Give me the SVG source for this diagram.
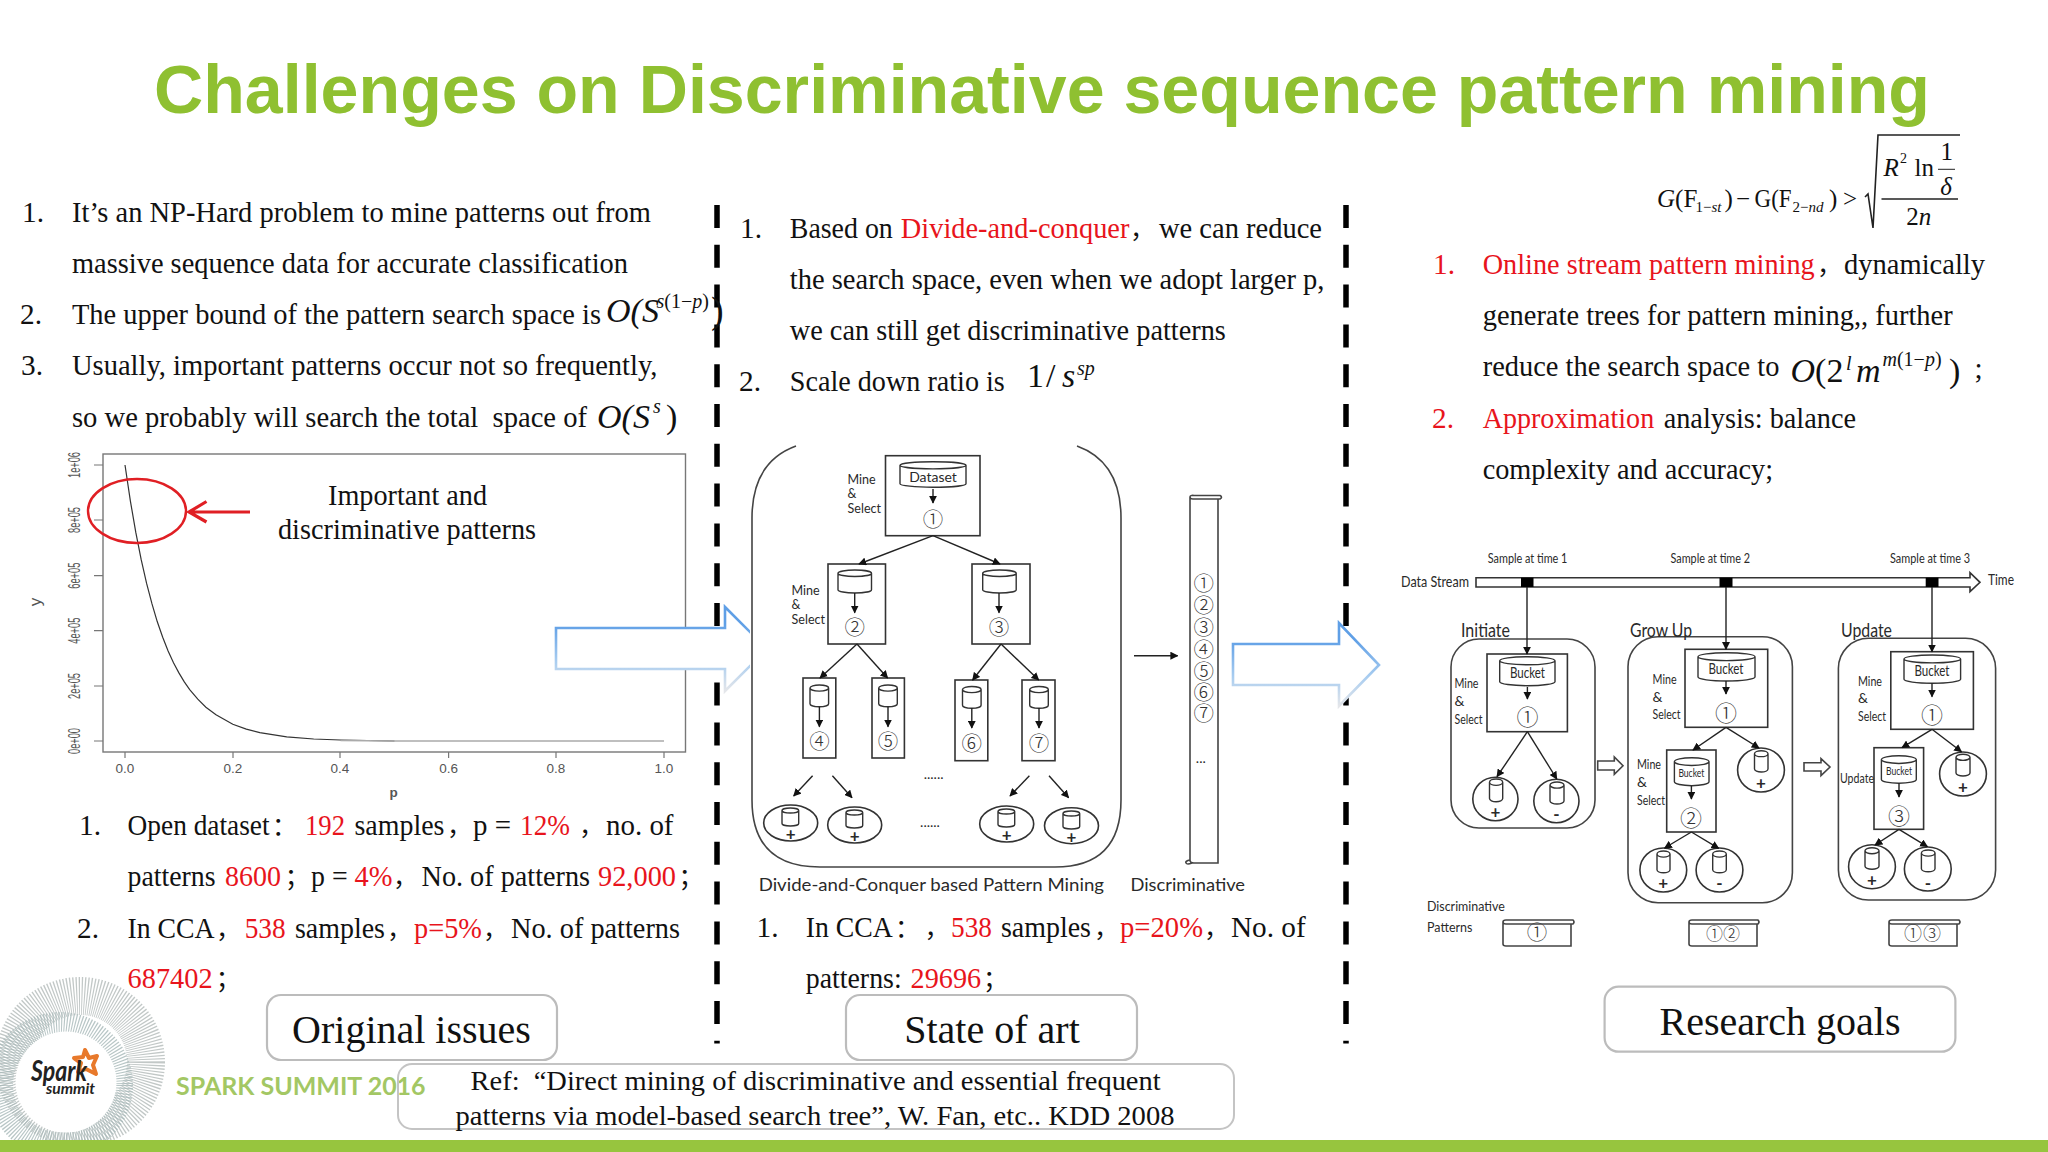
<svg xmlns="http://www.w3.org/2000/svg" width="2048" height="1152" viewBox="0 0 2048 1152">
<style>
text{font-family:"Liberation Serif","Noto Sans CJK SC",serif;fill:#111;font-size:29.3px}
text.r{fill:#e8141c}
.i{font-style:italic}
.n{font-style:normal}
.m{font-size:34px}
.su{font-size:20px}
.p{font-size:25px}
.f{font-size:25px}
.h{font-size:40px;text-anchor:middle}
.c{font-family:"Lato","Noto Sans CJK SC",sans-serif;fill:#2a2a2a;font-size:14px}
.cc{font-family:"Noto Sans CJK SC",sans-serif;fill:#333;font-size:20.500px;text-anchor:middle;font-weight:300}
.tk{font-family:"Liberation Sans",sans-serif;fill:#555;font-size:13.500px;text-anchor:middle}
.ty{font-size:17px}
.ln{stroke:#222;stroke-width:1.4;fill:none}
.bx{stroke:#333;stroke-width:1.6;fill:#fff}
.pn{stroke:#444;stroke-width:1.6;fill:none}
.lb{stroke:#bcbcbc;stroke-width:2.2;fill:#fff}
.big{stroke:url(#bl);stroke-width:2.6;fill:#fff}
.dash{stroke:#000;stroke-width:5.5;stroke-dasharray:23 16.800;fill:none}
.cy{stroke:#333;stroke-width:1.4;fill:#fff;vector-effect:non-scaling-stroke}
.ray{fill:none;stroke-dasharray:1.1 1.5}
.pl{text-anchor:middle;font-size:17px;font-weight:bold}
</style>
<defs>
<linearGradient id="bl" x1="0" y1="0" x2="0" y2="1"><stop offset="0.2" stop-color="#5f9fe6"/><stop offset="0.65" stop-color="#a9cdf0"/><stop offset="1" stop-color="#e4e6ea"/></linearGradient>
<marker id="a" viewBox="0 0 10 10" refX="9" refY="5" markerWidth="8" markerHeight="8" markerUnits="userSpaceOnUse" orient="auto"><path d="M0,0 L10,5 L0,10 Z" fill="#111"/></marker>
<symbol id="cyl" viewBox="0 0 100 100" preserveAspectRatio="none" overflow="visible"><path class="cy" d="M0,14 A50,14 0 0 1 100,14 V86 A50,14 0 0 1 0,86 Z M0,14 A50,14 0 0 0 100,14"/></symbol>
<clipPath id="clipL"><rect x="500" y="590" width="250" height="120"/></clipPath>
</defs>
<rect width="2048" height="1152" fill="#fff"/>

<text id="title" x="154" y="113" textLength="1776" lengthAdjust="spacingAndGlyphs" style="font-family:'Liberation Sans',sans-serif;font-weight:bold;font-size:68px;fill:#8fc031">Challenges on Discriminative sequence pattern mining</text>

<g id="plot">
<rect x="103" y="454" width="582.500" height="298" fill="none" stroke="#777" stroke-width="1.4"/>
<path d="M125,465 L130.400,501.100 135.800,532.400 141.200,559.700 146.600,583.400 152,603.900 157.300,621.800 162.700,637.300 168.100,651 173.500,662.700 178.900,672.900 184.300,681.900 189.700,689.600 197.800,699.200 205.900,707.200 216,714.700 232.800,724.200 246.300,729.100 259.800,732.700 286.700,736.900 313.700,739 340.600,740 394.500,741" fill="none" stroke="#333" stroke-width="1.200"/>
<path d="M340.600,740.500 L394.500,741 H664" fill="none" stroke="#aaa" stroke-width="1.600"/>
<path d="M103,465 h-9 M103,520 h-9 M103,575.700 h-9 M103,630.700 h-9 M103,686 h-9 M103,741 h-9 M125,752 v6 M233,752 v6 M340,752 v6 M448.600,752 v6 M556,752 v6 M664,752 v6" stroke="#777" stroke-width="1.200"/>
<text class="tk ty" transform="translate(80,465) rotate(-90)" textLength="26" lengthAdjust="spacingAndGlyphs">1e+06</text>
<text class="tk ty" transform="translate(80,520) rotate(-90)" textLength="26" lengthAdjust="spacingAndGlyphs">8e+05</text>
<text class="tk ty" transform="translate(80,575.700) rotate(-90)" textLength="26" lengthAdjust="spacingAndGlyphs">6e+05</text>
<text class="tk ty" transform="translate(80,630.700) rotate(-90)" textLength="26" lengthAdjust="spacingAndGlyphs">4e+05</text>
<text class="tk ty" transform="translate(80,686) rotate(-90)" textLength="26" lengthAdjust="spacingAndGlyphs">2e+05</text>
<text class="tk ty" transform="translate(80,741) rotate(-90)" textLength="26" lengthAdjust="spacingAndGlyphs">0e+00</text>
<text class="tk ty" transform="translate(41,602) rotate(-90)">y</text>
<text class="tk" x="125" y="773">0.0</text><text class="tk" x="233" y="773">0.2</text><text class="tk" x="340" y="773">0.4</text><text class="tk" x="448.600" y="773">0.6</text><text class="tk" x="556" y="773">0.8</text><text class="tk" x="664" y="773">1.0</text>
<text class="tk" x="393.500" y="797" style="font-weight:bold">p</text>
<ellipse cx="137" cy="511" rx="49" ry="32" fill="none" stroke="#e01f24" stroke-width="2.400"/>
<path d="M250,512 H189 M206.500,501.500 L189,512 L206.500,522" fill="none" stroke="#e01f24" stroke-width="3.200"/>
<text x="328" y="505" textLength="159" lengthAdjust="spacingAndGlyphs">Important and</text>
<text x="278" y="539" textLength="258" lengthAdjust="spacingAndGlyphs">discriminative patterns</text>
</g>

<g id="dividers">
<path class="dash" d="M717,205 V1043.500"/>
<path class="dash" d="M1346,205 V1043.500"/>
</g>

<g id="col-left">
<text x="22" y="222">1.</text><text x="72" y="222" textLength="579" lengthAdjust="spacingAndGlyphs">It’s an NP-Hard problem to mine patterns out from</text>
<text x="72" y="273" textLength="556" lengthAdjust="spacingAndGlyphs">massive sequence data for accurate classification</text>
<text x="20" y="324">2.</text><text x="72" y="324" textLength="529" lengthAdjust="spacingAndGlyphs">The upper bound of the pattern search space is</text>
<text class="m i" x="606" y="322">O(S</text><text class="su i" x="656.500" y="308">s<tspan class="n">(1−</tspan>p<tspan class="n">)</tspan></text><text x="711" y="323" style="font-size:38px">)</text>
<text x="21" y="375">3.</text><text x="72" y="375" textLength="585.500" lengthAdjust="spacingAndGlyphs">Usually, important patterns occur not so frequently,</text>
<text x="72" y="426.500" textLength="515" lengthAdjust="spacingAndGlyphs">so we probably will search the total&#160; space of</text>
<text class="m i" x="597" y="428">O(S</text><text class="su i" x="653" y="413">s</text><text class="m" x="666" y="428">)</text>

<text x="79" y="835">1.</text>
<text x="127.600" y="835" textLength="142" lengthAdjust="spacingAndGlyphs">Open dataset</text><text class="p" x="272" y="835">：</text>
<text class="r" x="305" y="835" textLength="40" lengthAdjust="spacingAndGlyphs">192</text>
<text x="354.500" y="835" textLength="90" lengthAdjust="spacingAndGlyphs">samples</text><text class="p" x="447" y="835">，</text>
<text x="473" y="835" textLength="38" lengthAdjust="spacingAndGlyphs">p =</text>
<text class="r" x="520" y="835" textLength="50" lengthAdjust="spacingAndGlyphs">12%</text><text class="p" x="579" y="835">，</text>
<text x="606" y="835" textLength="67.500" lengthAdjust="spacingAndGlyphs">no. of</text>

<text x="127.600" y="886" textLength="88" lengthAdjust="spacingAndGlyphs">patterns</text>
<text class="r" x="225" y="886" textLength="56" lengthAdjust="spacingAndGlyphs">8600</text><text class="p" x="284.700" y="886">；</text>
<text x="311" y="886" textLength="36.600" lengthAdjust="spacingAndGlyphs">p =</text>
<text class="r" x="354.500" y="886" textLength="38" lengthAdjust="spacingAndGlyphs">4%</text><text class="p" x="393" y="886">，</text>
<text x="421.500" y="886" textLength="168.500" lengthAdjust="spacingAndGlyphs">No. of patterns</text>
<text class="r" x="598" y="886" textLength="78" lengthAdjust="spacingAndGlyphs">92,000</text><text class="p" x="678.600" y="886">；</text>

<text x="77" y="938">2.</text>
<text x="127.600" y="938" textLength="87" lengthAdjust="spacingAndGlyphs">In CCA</text><text class="p" x="216" y="938">，</text>
<text class="r" x="244.700" y="938" textLength="41" lengthAdjust="spacingAndGlyphs">538</text>
<text x="295" y="938" textLength="90" lengthAdjust="spacingAndGlyphs">samples</text><text class="p" x="387" y="938">，</text>
<text class="r" x="414" y="938" textLength="68" lengthAdjust="spacingAndGlyphs">p=5%</text><text class="p" x="483" y="938">，</text>
<text x="511" y="938" textLength="169" lengthAdjust="spacingAndGlyphs">No. of patterns</text>
<text class="r" x="127.600" y="988" textLength="85" lengthAdjust="spacingAndGlyphs">687402</text><text class="p" x="215.800" y="988">；</text>
</g>

<g id="col-mid">
<text x="740" y="238">1.</text><text x="789.800" y="238" textLength="103" lengthAdjust="spacingAndGlyphs">Based on</text>
<text class="r" x="900.800" y="238" textLength="228.600" lengthAdjust="spacingAndGlyphs">Divide-and-conquer</text><text class="p" x="1130" y="238">，</text>
<text x="1159" y="238" textLength="163" lengthAdjust="spacingAndGlyphs">we can reduce</text>
<text x="789.800" y="289" textLength="534.700" lengthAdjust="spacingAndGlyphs">the search space, even when we adopt larger p,</text>
<text x="789.800" y="340" textLength="436" lengthAdjust="spacingAndGlyphs">we can still get discriminative patterns</text>
<text x="739" y="391">2.</text><text x="789.800" y="391" textLength="215" lengthAdjust="spacingAndGlyphs">Scale down ratio is</text>
<text class="m" x="1027" y="387">1<tspan x="1046">/</tspan><tspan class="i" x="1062">s</tspan></text><text class="su i" x="1077" y="375">sp</text>

<text x="756.600" y="936.500">1.</text>
<text x="805.700" y="936.500" textLength="87" lengthAdjust="spacingAndGlyphs">In CCA</text><text class="p" x="895" y="936.500">：</text><text class="p" x="924.500" y="936.500">，</text>
<text class="r" x="951" y="936.500" textLength="41" lengthAdjust="spacingAndGlyphs">538</text>
<text x="1001" y="936.500" textLength="90" lengthAdjust="spacingAndGlyphs">samples</text><text class="p" x="1094" y="936.500">，</text>
<text class="r" x="1120" y="936.500" textLength="83" lengthAdjust="spacingAndGlyphs">p=20%</text><text class="p" x="1204" y="936.500">，</text>
<text x="1231" y="936.500" textLength="74.700" lengthAdjust="spacingAndGlyphs">No. of</text>
<text x="805.700" y="987.500" textLength="96" lengthAdjust="spacingAndGlyphs">patterns:</text>
<text class="r" x="910.600" y="987.500" textLength="70.500" lengthAdjust="spacingAndGlyphs">29696</text><text class="p" x="983" y="987.500">；</text>
</g>

<g id="col-right">
<text class="r" x="1433" y="274">1.</text><text class="r" x="1482.700" y="274" textLength="332" lengthAdjust="spacingAndGlyphs">Online stream pattern mining</text><text class="p" x="1817" y="274">，</text><text x="1844" y="274" textLength="141" lengthAdjust="spacingAndGlyphs">dynamically</text>
<text x="1482.700" y="325" textLength="470" lengthAdjust="spacingAndGlyphs">generate trees for pattern mining,, further</text>
<text x="1482.700" y="376" textLength="296.700" lengthAdjust="spacingAndGlyphs">reduce the search space to</text>
<text class="m" x="1790.500" y="382"><tspan class="i">O</tspan>(2</text><text class="su i" x="1846" y="370">l</text><text class="m i" x="1856" y="382">m</text><text class="su i" x="1882.500" y="366">m<tspan class="n">(1−</tspan>p<tspan class="n">)</tspan></text><text class="m" x="1949" y="382">)</text><text x="1974.500" y="378">;</text>
<text class="r" x="1432" y="428">2.</text><text class="r" x="1482.700" y="428" textLength="171.500" lengthAdjust="spacingAndGlyphs">Approximation</text><text x="1663.700" y="428" textLength="192.300" lengthAdjust="spacingAndGlyphs">analysis: balance</text>
<text x="1482.700" y="479" textLength="290.300" lengthAdjust="spacingAndGlyphs">complexity and accuracy;</text>
</g>

<g id="formula">
<text class="f i" x="1657" y="207">G<tspan class="n">(F</tspan></text>
<text class="i" x="1695.500" y="212" style="font-size:15px"><tspan class="n">1−</tspan>st</text>
<text class="f" x="1724.400" y="207">)</text><text class="f" x="1736" y="207">−</text>
<text class="f" x="1754.600" y="207" textLength="37" lengthAdjust="spacingAndGlyphs">G(F</text>
<text class="i" x="1792.600" y="212" style="font-size:15px"><tspan class="n">2−</tspan>nd</text>
<text class="f" x="1829" y="207">)</text><text class="f" x="1843" y="207">&gt;</text>
<path d="M1865,197 L1868,194 L1873,228 L1878,135 H1960" fill="none" stroke="#222" stroke-width="1.600"/>
<path d="M1881.500,199 H1958" stroke="#222" stroke-width="1.300"/>
<path d="M1938,169.300 H1955" stroke="#222" stroke-width="1"/>
<text class="f i" x="1883.500" y="176">R</text><text x="1900" y="163" style="font-size:14px">2</text>
<text class="f" x="1914.500" y="176">ln</text>
<text class="f" x="1946.800" y="160" style="text-anchor:middle">1</text>
<text class="f i" x="1946" y="195" style="text-anchor:middle">δ</text>
<text class="f" x="1918.700" y="225" style="text-anchor:middle">2<tspan class="i">n</tspan></text>
</g>

<path id="arrow-left" class="big" clip-path="url(#clipL)" d="M556,628 H725 V607 L767,649 L725,691 V669 H556 Z"/>

<g id="dc-frame">
<path class="pn" d="M796,446 Q752,462 752,518 V800 Q752,867 820,867 H1055 Q1121,867 1121,800 V518 Q1121,462 1077,446"/>
<text class="c" x="758.700" y="890.700" textLength="345.300" lengthAdjust="spacingAndGlyphs" style="font-size:17.500px">Divide-and-Conquer based Pattern Mining</text>
<text class="c" x="1130.500" y="890.700" textLength="114.500" lengthAdjust="spacingAndGlyphs" style="font-size:17.500px">Discriminative</text>
</g>

<g id="dc-n1"><rect class="bx" x="885.500" y="455.700" width="94.500" height="80"/><use href="#cyl" x="900" y="461.700" width="66" height="25.500"/><text class="c" x="933" y="481.500" style="text-anchor:middle;font-size:14px">Dataset</text><text class="cc" x="933" y="526.500">①</text>
<text class="c" x="847.600" y="484" style="font-size:12.500px">Mine</text><text class="c" x="847.600" y="498" style="font-size:12.500px">&amp;</text><text class="c" x="847.600" y="513" style="font-size:12.500px">Select</text></g>
<g id="dc-n2"><rect class="bx" x="828" y="564" width="57.500" height="80"/><use href="#cyl" x="838" y="570" width="33.500" height="23"/><text class="cc" x="854.700" y="635">②</text>
<text class="c" x="791.600" y="595" style="font-size:12.500px">Mine</text><text class="c" x="791.600" y="609" style="font-size:12.500px">&amp;</text><text class="c" x="791.600" y="624" style="font-size:12.500px">Select</text></g>
<g id="dc-n3"><rect class="bx" x="972" y="564" width="58" height="80"/><use href="#cyl" x="982.700" y="570" width="33.500" height="23"/><text class="cc" x="999" y="635">③</text></g>
<g id="dc-n4"><rect class="bx" x="803" y="678" width="32.800" height="80"/><use href="#cyl" x="810" y="685" width="18.600" height="21.700"/><text class="cc" x="819.400" y="749">④</text></g>
<g id="dc-n5"><rect class="bx" x="872" y="678" width="32.400" height="80"/><use href="#cyl" x="878.700" y="685" width="18.600" height="21.700"/><text class="cc" x="888" y="749">⑤</text></g>
<g id="dc-n6"><rect class="bx" x="955" y="680" width="32.800" height="80.700"/><use href="#cyl" x="962.500" y="686.500" width="18.600" height="21.700"/><text class="cc" x="971.800" y="751">⑥</text></g>
<g id="dc-n7"><rect class="bx" x="1022" y="680" width="33" height="80.700"/><use href="#cyl" x="1029.700" y="686.500" width="18.600" height="21.700"/><text class="cc" x="1039" y="751">⑦</text></g>
<g id="dc-leaf1"><ellipse class="bx" cx="790.700" cy="823" rx="27" ry="18"/><use href="#cyl" x="782" y="808" width="16.700" height="18"/><text class="c pl" x="790.700" y="840">+</text></g>
<g id="dc-leaf2"><ellipse class="bx" cx="854.700" cy="825" rx="27" ry="18"/><use href="#cyl" x="846" y="810" width="16.700" height="18"/><text class="c pl" x="854.700" y="842">+</text></g>
<g id="dc-leaf3"><ellipse class="bx" cx="1006.700" cy="824" rx="27" ry="18"/><use href="#cyl" x="998" y="809" width="16.700" height="18"/><text class="c pl" x="1006.700" y="841">+</text></g>
<g id="dc-leaf4"><ellipse class="bx" cx="1071.500" cy="825.700" rx="27" ry="18"/><use href="#cyl" x="1063" y="811" width="16.700" height="18"/><text class="c pl" x="1071.500" y="843">+</text></g>
<g id="dc-dots"><text class="c" x="933.600" y="779" style="text-anchor:middle">......</text><text class="c" x="930" y="826.700" style="text-anchor:middle">......</text></g>

<g id="dc-scroll">
<path class="pn" d="M1190,497 V860 Q1190,863 1194,863 H1218 V499 M1190,497 Q1190,495 1194,495.500 H1220 Q1223,497 1220,499 H1193 Q1190,499 1190,497 M1190,860 Q1185,861 1186,863 Q1187,865 1192,863"/>
<text class="cc" x="1203.700" y="591">①</text><text class="cc" x="1203.700" y="613">②</text><text class="cc" x="1203.700" y="635">③</text><text class="cc" x="1203.700" y="656.500">④</text><text class="cc" x="1203.700" y="678.500">⑤</text><text class="cc" x="1203.700" y="700">⑥</text><text class="cc" x="1203.700" y="720.500">⑦</text>
<text class="c" x="1200.800" y="763" style="text-anchor:middle">...</text>
</g>

<path id="arrow-right" class="big" d="M1233,644 H1339 V623 L1379,665 L1339,706 V685 H1233 Z"/>

<g id="stream">
<path class="bx" d="M1476,577.700 H1970 V572.700 L1980,582.300 L1970,591.700 V587 H1476 Z"/>
<rect x="1521" y="577.700" width="12.500" height="9.300" fill="#000"/><rect x="1719.500" y="577.700" width="13" height="9.300" fill="#000"/><rect x="1925.700" y="577.700" width="12.800" height="9.300" fill="#000"/>
<text class="c" x="1487.800" y="563" textLength="79.600" lengthAdjust="spacingAndGlyphs">Sample at time 1</text>
<text class="c" x="1670.500" y="563" textLength="79.500" lengthAdjust="spacingAndGlyphs">Sample at time 2</text>
<text class="c" x="1890" y="563" textLength="80" lengthAdjust="spacingAndGlyphs">Sample at time 3</text>
<text class="c" x="1401" y="587" textLength="68" lengthAdjust="spacingAndGlyphs" style="font-size:16px">Data Stream</text>
<text class="c" x="1988" y="585" textLength="26" lengthAdjust="spacingAndGlyphs" style="font-size:16px">Time</text>
</g>

<g id="panel-initiate">
<rect class="pn" x="1451" y="639" width="144" height="189" rx="28"/>
<text class="c" x="1461" y="636.700" textLength="49" lengthAdjust="spacingAndGlyphs" style="font-size:20px">Initiate</text>
<rect class="bx" x="1487" y="654" width="80.400" height="77.700"/><use href="#cyl" x="1499.700" y="656.700" width="55.300" height="29"/>
<text class="c" x="1527.400" y="678" textLength="35" lengthAdjust="spacingAndGlyphs" style="text-anchor:middle;font-size:15px">Bucket</text><text class="cc" x="1527.400" y="725" style="font-size:22px">①</text>
<text class="c" x="1454.500" y="688" textLength="24" lengthAdjust="spacingAndGlyphs">Mine</text><text class="c" x="1454.500" y="706">&amp;</text><text class="c" x="1454.500" y="724" textLength="28" lengthAdjust="spacingAndGlyphs">Select</text>
<ellipse class="bx" cx="1495.400" cy="799" rx="22.600" ry="21.700"/><use href="#cyl" x="1489.500" y="779" width="13.200" height="22.700"/><text class="c pl" x="1495.400" y="818">+</text>
<ellipse class="bx" cx="1556.400" cy="801" rx="22.600" ry="21.700"/><use href="#cyl" x="1550" y="782" width="14" height="22"/><text class="c pl" x="1556.400" y="820">-</text>
</g>

<g id="panel-growup">
<rect class="pn" x="1628" y="636.700" width="164.400" height="266" rx="30"/>
<text class="c" x="1630" y="636.700" textLength="62" lengthAdjust="spacingAndGlyphs" style="font-size:20px">Grow Up</text>
<rect class="bx" x="1685" y="649.300" width="82.700" height="78"/><use href="#cyl" x="1698" y="652.700" width="57" height="28.300"/>
<text class="c" x="1726" y="674" textLength="35" lengthAdjust="spacingAndGlyphs" style="text-anchor:middle;font-size:15px">Bucket</text><text class="cc" x="1726" y="721" style="font-size:22px">①</text>
<text class="c" x="1652.600" y="684" textLength="24" lengthAdjust="spacingAndGlyphs">Mine</text><text class="c" x="1652.600" y="701.700">&amp;</text><text class="c" x="1652.600" y="719" textLength="28" lengthAdjust="spacingAndGlyphs">Select</text>
<rect class="bx" x="1666.700" y="750" width="49.300" height="82"/><use href="#cyl" x="1674.400" y="757.700" width="34.600" height="28"/>
<text class="c" x="1691.400" y="777" textLength="26" lengthAdjust="spacingAndGlyphs" style="text-anchor:middle;font-size:11px">Bucket</text><text class="cc" x="1691" y="826" style="font-size:22px">②</text>
<text class="c" x="1637" y="769" textLength="24" lengthAdjust="spacingAndGlyphs">Mine</text><text class="c" x="1637" y="787">&amp;</text><text class="c" x="1637" y="805" textLength="28" lengthAdjust="spacingAndGlyphs">Select</text>
<ellipse class="bx" cx="1761" cy="770" rx="23.400" ry="22"/><use href="#cyl" x="1754.500" y="750.700" width="13.500" height="21.300"/><text class="c pl" x="1761" y="789">+</text>
<ellipse class="bx" cx="1663.300" cy="870" rx="23.400" ry="22"/><use href="#cyl" x="1657" y="851" width="13" height="21.700"/><text class="c pl" x="1663.300" y="889">+</text>
<ellipse class="bx" cx="1719.500" cy="870" rx="23.400" ry="22"/><use href="#cyl" x="1712.700" y="851" width="13.600" height="21.700"/><text class="c pl" x="1719.500" y="889">-</text>
</g>

<g id="panel-update">
<rect class="pn" x="1838.400" y="638.300" width="157.200" height="261.700" rx="30"/>
<text class="c" x="1841" y="636.700" textLength="51" lengthAdjust="spacingAndGlyphs" style="font-size:20px">Update</text>
<rect class="bx" x="1890.800" y="651.700" width="82.600" height="77.600"/><use href="#cyl" x="1904" y="655" width="56.600" height="28.300"/>
<text class="c" x="1932" y="676" textLength="35" lengthAdjust="spacingAndGlyphs" style="text-anchor:middle;font-size:15px">Bucket</text><text class="cc" x="1932" y="723" style="font-size:22px">①</text>
<text class="c" x="1858" y="685.700" textLength="24" lengthAdjust="spacingAndGlyphs">Mine</text><text class="c" x="1858" y="703.300">&amp;</text><text class="c" x="1858" y="721" textLength="28" lengthAdjust="spacingAndGlyphs">Select</text>
<rect class="bx" x="1874" y="747.700" width="49.600" height="81.600"/><use href="#cyl" x="1881.400" y="755.700" width="34.900" height="27.600"/>
<text class="c" x="1899" y="775" textLength="26" lengthAdjust="spacingAndGlyphs" style="text-anchor:middle;font-size:11px">Bucket</text><text class="cc" x="1899" y="824" style="font-size:22px">③</text>
<text class="c" x="1840" y="783.300" textLength="34" lengthAdjust="spacingAndGlyphs">Update</text>
<ellipse class="bx" cx="1963" cy="774" rx="23.400" ry="22"/><use href="#cyl" x="1956" y="754.300" width="14" height="21.700"/><text class="c pl" x="1963" y="793">+</text>
<ellipse class="bx" cx="1872" cy="866.700" rx="23.400" ry="22"/><use href="#cyl" x="1865" y="847.700" width="14" height="21.600"/><text class="c pl" x="1872" y="886">+</text>
<ellipse class="bx" cx="1927.800" cy="869" rx="23.400" ry="22"/><use href="#cyl" x="1921.400" y="850" width="13.600" height="21.700"/><text class="c pl" x="1927.800" y="889">-</text>
</g>

<g id="hollow-arrows">
<path class="pn" d="M1597.700,761 H1614.300 V757 L1623,765.700 L1614.300,774.300 V770 H1597.700 Z"/>
<path class="pn" d="M1804,762.700 H1821 V758.700 L1830,767 L1821,775.700 V771 H1804 Z"/>
</g>

<g id="patterns">
<text class="c" x="1427" y="911" textLength="77.800" lengthAdjust="spacingAndGlyphs">Discriminative</text>
<text class="c" x="1427" y="931.700" textLength="45.400" lengthAdjust="spacingAndGlyphs">Patterns</text>
<path class="pn" d="M1503,922 V944 Q1503,946 1506,946 H1571 V924 M1503,922 Q1503,920 1506,920 H1573 Q1575,922 1573,924 H1506 Q1503,924 1503,922"/>
<text class="cc" x="1537" y="940">①</text>
<path class="pn" d="M1689,922 V944 Q1689,946 1692,946 H1757 V924 M1689,922 Q1689,920 1692,920 H1758 Q1760,922 1758,924 H1692 Q1689,924 1689,922"/>
<text class="cc" x="1714.400" y="940" style="font-size:17px">①</text><text class="cc" x="1731.500" y="940" style="font-size:17px">②</text>
<path class="pn" d="M1889,922 V944 Q1889,946 1892,946 H1957 V924 M1889,922 Q1889,920 1892,920 H1959 Q1961,922 1959,924 H1892 Q1889,924 1889,922"/>
<text class="cc" x="1913" y="940" style="font-size:18px">①</text><text class="cc" x="1932" y="940" style="font-size:18px">③</text>
</g>

<g id="connectors" class="ln" marker-end="url(#a)">
<path d="M933,489 V503"/><path d="M854.700,593 V612.700"/><path d="M999,593 V612.700"/>
<path d="M933,535.700 L859,564"/><path d="M933,535.700 L1000,564"/>
<path d="M857,644 L820,678"/><path d="M857,644 L887.600,678"/><path d="M1001,644 L972.600,680"/><path d="M1001,644 L1038.700,680"/>
<path d="M819.400,706.700 V726.700"/><path d="M888,706.700 V726.700"/><path d="M971.800,708 V728"/><path d="M1039,708 V728"/>
<path d="M812.600,775.700 L793.700,796"/><path d="M832.400,775.700 L852,797.700"/><path d="M1029.400,775.700 L1010,796"/><path d="M1049,775.700 L1068.600,797.700"/>
<path d="M1134,655.700 H1177.600"/>
<path d="M1527,587 V654"/><path d="M1726,587 V649.300"/><path d="M1932,587 V651.700"/>
<path d="M1527.400,687 V699"/><path d="M1527.400,731.700 L1497,776.700"/><path d="M1527.400,731.700 L1556.800,779"/>
<path d="M1726,681 V694"/><path d="M1726,727.300 L1693,750"/><path d="M1726,727.300 L1759,748"/>
<path d="M1691.400,785.700 V799"/><path d="M1691.400,832 L1664.600,848"/><path d="M1691.400,832 L1718.700,848.300"/>
<path d="M1932,683.300 V696.700"/><path d="M1932,729.300 L1902,747.700"/><path d="M1932,729.300 L1961.500,751.700"/>
<path d="M1899,783.300 V797"/><path d="M1899,829.300 L1875,845"/><path d="M1899,829.300 L1927.400,846.700"/>
</g>

<g id="label-original"><rect class="lb" x="267" y="995" width="290" height="65" rx="14"/><text class="h" x="411.500" y="1043">Original issues</text></g>
<g id="label-state"><rect class="lb" x="846" y="995" width="291" height="65" rx="14"/><text class="h" x="992" y="1043">State of art</text></g>
<g id="label-goals"><rect class="lb" x="1604.600" y="986.700" width="350.800" height="65" rx="14"/><text class="h" x="1780" y="1035">Research goals</text></g>

<g id="logo">
<circle cx="80" cy="1062" r="66" class="ray" stroke="#c2c8c7" stroke-width="38"/>
<circle cx="60" cy="1085" r="60" class="ray" stroke="#a6b8b8" stroke-width="26" opacity="0.800"/>
<circle cx="66" cy="1082" r="50.500" fill="#fff"/>
<path d="M85,1050 L89,1058 L97,1056 L93,1065 L96,1074 L86,1069 L78,1072 L81,1063 L74,1058 L83,1057 Z" fill="#fff" stroke="#e8792b" stroke-width="4" stroke-linejoin="round"/>
<text x="31" y="1081" style="font-family:Lato,sans-serif;font-style:italic;font-weight:bold;font-size:28px;fill:#222" textLength="56" lengthAdjust="spacingAndGlyphs">Spark</text>
<text x="46" y="1094" style="font-family:Lato,sans-serif;font-style:italic;font-weight:bold;font-size:15px;fill:#222" textLength="49" lengthAdjust="spacingAndGlyphs">summit</text>
</g>
<text id="brand" x="176" y="1095" textLength="249.600" lengthAdjust="spacingAndGlyphs" style="font-family:Lato,sans-serif;font-weight:bold;font-size:24px;fill:#a3c764">SPARK SUMMIT 2016</text>

<g id="ref-box"><rect x="398" y="1064" width="836" height="65" rx="14" fill="none" stroke="#c4c4c4" stroke-width="2"/>
<text x="470.600" y="1090" textLength="690" lengthAdjust="spacingAndGlyphs" style="font-size:28px">Ref:&#160; “Direct mining of discriminative and essential frequent</text>
<text x="455.500" y="1125" textLength="719" lengthAdjust="spacingAndGlyphs" style="font-size:28px">patterns via model-based search tree”, W. Fan, etc.. KDD 2008</text>
</g>

<rect id="footer" x="0" y="1140" width="2048" height="12" fill="#97c53e"/>
</svg>
